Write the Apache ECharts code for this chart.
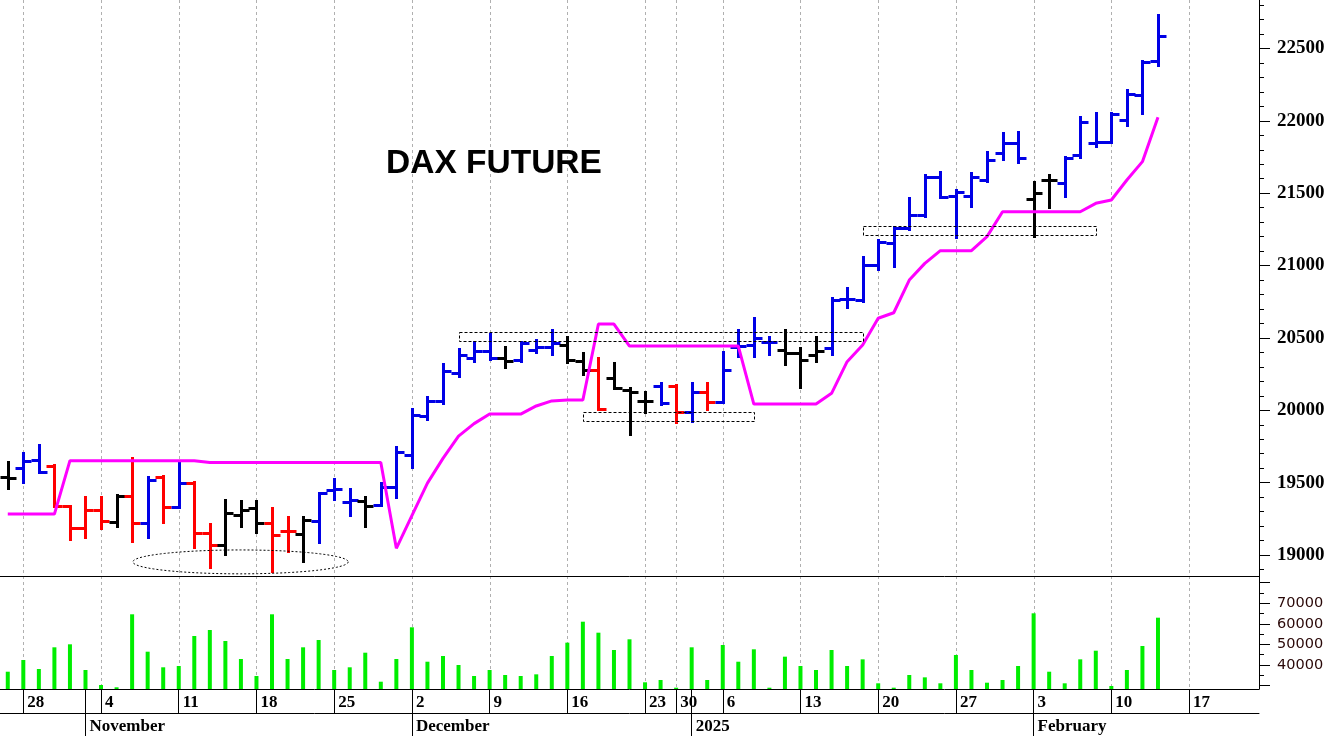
<!DOCTYPE html>
<html><head><meta charset="utf-8">
<script src="https://cdn.jsdelivr.net/npm/echarts@6/dist/echarts.min.js"></script>
<style>html,body{margin:0;padding:0;background:#fff}#c{width:1331px;height:736px}</style>
</head><body><div id="c"></div>
<script>
// ---------- DATA ----------
const dates = [
 '2024-10-25',
 '2024-10-28','2024-10-29','2024-10-30','2024-10-31','2024-11-01',
 '2024-11-04','2024-11-05','2024-11-06','2024-11-07','2024-11-08',
 '2024-11-11','2024-11-12','2024-11-13','2024-11-14','2024-11-15',
 '2024-11-18','2024-11-19','2024-11-20','2024-11-21','2024-11-22',
 '2024-11-25','2024-11-26','2024-11-27','2024-11-28','2024-11-29',
 '2024-12-02','2024-12-03','2024-12-04','2024-12-05','2024-12-06',
 '2024-12-09','2024-12-10','2024-12-11','2024-12-12','2024-12-13',
 '2024-12-16','2024-12-17','2024-12-18','2024-12-19','2024-12-20',
 '2024-12-23','2024-12-27',
 '2024-12-30','2025-01-02','2025-01-03',
 '2025-01-06','2025-01-07','2025-01-08','2025-01-09','2025-01-10',
 '2025-01-13','2025-01-14','2025-01-15','2025-01-16','2025-01-17',
 '2025-01-20','2025-01-21','2025-01-22','2025-01-23','2025-01-24',
 '2025-01-27','2025-01-28','2025-01-29','2025-01-30','2025-01-31',
 '2025-02-03','2025-02-04','2025-02-05','2025-02-06','2025-02-07',
 '2025-02-10','2025-02-11','2025-02-12','2025-02-13','2025-02-14',
 '2025-02-17','2025-02-18','2025-02-19','2025-02-20','2025-02-21'
];
const opens  = [19541,19599,19656,19617,19339,19184,19311,19230,19408,19219,
                19541,19334,19500,19150,19069,19276,19322,19219,19168,19145,
                19237,19449,19368,19375,19345,19472,19691,19960,20066,20256,
                20359,20412,20359,20347,20420,20439,20451,20342,20278,20221,
                20140,20066,20168,20168,19990,20128,20059,20440,20450,20474,
                20417,20394,20382,20428,20767,20762,21004,21154,21257,21349,
                21610,21480,21481,21591,21776,21845,21457,21591,21568,21764,
                21845,21856,22006,22180,22414];
const highs  = [19645,19703,19760,19622,19342,19403,19403,19415,19668,19541,
                19545,19645,19505,19214,19380,19375,19375,19322,19265,19265,
                19431,19523,19454,19403,19495,19744,20007,20094,20320,20421,
                20474,20527,20439,20474,20486,20555,20509,20394,20359,20325,
                20152,20128,20187,20175,20191,20187,20405,20555,20636,20509,
                20555,20428,20509,20774,20843,21062,21177,21269,21464,21626,
                21649,21522,21638,21787,21914,21925,21580,21626,21753,22029,
                22052,22052,22213,22416,22731];
const lows   = [19454,19500,19569,19335,19104,19115,19180,19196,19092,19115,
                19223,19322,19046,18908,19000,19196,19154,18885,19023,18954,
                19081,19380,19269,19191,19339,19392,19599,19933,20043,20228,
                20336,20347,20290,20336,20394,20382,20325,20244,20000,20145,
                19829,19979,20037,19910,19921,20002,20048,20370,20370,20382,
                20313,20152,20336,20382,20705,20751,20969,20992,21246,21333,
                21464,21188,21407,21580,21730,21707,21200,21395,21476,21741,
                21822,21845,21964,22047,22379];
const closes = [19535,19652,19576,19340,19184,19311,19237,19408,19219,19518,
                19329,19500,19154,19069,19288,19311,19219,19138,19168,19242,
                19431,19454,19380,19339,19472,19714,19967,20066,20274,20382,
                20412,20359,20342,20467,20439,20463,20347,20278,20010,20155,
                20128,20066,20048,19990,20128,20059,20280,20445,20500,20474,
                20394,20347,20412,20762,20767,21004,21165,21257,21349,21614,
                21476,21511,21610,21730,21845,21741,21499,21591,21741,21994,
                21856,22047,22183,22410,22588];
// b = blue, r = red, k = black
const barColors = ('kbbrrrrkrb' + 'rbrrkkkrrk' + 'bbbkbbbbbb' + 'bbkbbbkkrk' +
                   'kkbrbrbbbb' + 'kkkbbbbbbb' + 'bbbbbbkkbb' + 'bbbbb').split('');
const trail = [19283,19283,19283,19283,19652,19652,19652,19652,19652,19652,
               19652,19652,19652,19640,19640,19640,19640,19640,19640,19640,
               19640,19640,19640,19640,19640,19046,19272,19497,19668,19822,
               19908,19974,19974,19974,20030,20065,20071,20071,20596,20596,
               20444,20444,20444,20444,20444,20444,20444,20444,20043,20043,
               20043,20043,20043,20117,20336,20451,20636,20674,20900,21015,
               21103,21103,21103,21200,21372,21372,21372,21372,21372,21372,
               21430,21453,21591,21718,22025];
const volumes = [36740,42430,38050,48600,50060,37570,30280,29160,64650,46470,
                 38880,39510,54100,57010,51670,42920,34650,64650,42920,48600,
                 52150,37570,38880,45980,31880,42920,58320,41600,44380,40000,
                 34650,37570,35140,34650,35460,44380,50860,61050,55710,47290,
                 52490,31590,32710,28970,48600,32710,49720,41600,47630,28970,
                 44050,39510,37570,47290,39510,42750,31100,28970,35140,34000,
                 31100,44860,37570,31400,32710,39510,65130,36740,31100,42750,
                 46950,29790,37570,49240,63000];
const dayTicks = ['2024-10-28','2024-11-04','2024-11-11','2024-11-18','2024-11-25',
                  '2024-12-02','2024-12-09','2024-12-16','2024-12-23','2024-12-30',
                  '2025-01-06','2025-01-13','2025-01-20','2025-01-27','2025-02-03',
                  '2025-02-10','2025-02-17'];
const monthStarts = ['2024-11-01','2024-12-02','2025-01-02','2025-02-03'];
const monthNames  = ['November','December','2025','February'];
const priceTicks  = [19000,19500,20000,20500,21000,21500,22000,22500];
const volumeTicks = [30000,40000,50000,60000,70000,80000];
const volumeTickLabels = [40000,50000,60000,70000];
// annotation boxes (day index from/to, price low/high)
const boxFrom = [29, 37, 55];
const boxTo   = [55, 48, 70];
const boxLow  = [20480, 19925, 21205];
const boxHigh = [20540, 19990, 21270];
// annotation ellipse (day index from/to, price low/high)
const ellipseFrom = [8.05], ellipseTo = [21.9], ellipseLow = [18870], ellipseHigh = [19035];

// ---------- CHART ----------
const PMIN = 18855, PMAX = 22835, VMIN = 28330, VMAX = 83270;
const priceMinor = [];
for (let v = 18900; v <= 22800; v += 100) if (v % 500) priceMinor.push(v);
const volumeMinor = [35000,45000,55000,65000,75000];
const COL = {b: '#0000e6', r: '#ff0000', k: '#000000'};
const mondayIdx = dayTicks.map(d => dates.indexOf(d));
const isMonday = v => dayTicks.indexOf(v) >= 0;
const isMonth = v => monthStarts.indexOf(v) >= 0;
const snap = v => Math.round(v) + 0.5;

function fx(api, f, y) {
  const i = Math.floor(f);
  const p = api.coord([i, y]);
  const bw = api.size([1, 0])[0];
  return [p[0] + (f - i) * bw, p[1]];
}

const ohlcData = opens.map((o, i) => [i, o, highs[i], lows[i], closes[i]]);
const boxData = boxFrom.map((f, i) => [f, boxTo[i], boxLow[i], boxHigh[i]]);
const ellData = ellipseFrom.map((f, i) => [f, ellipseTo[i], ellipseLow[i], ellipseHigh[i]]);

const gridSeries = (xi, yi, mid) => ({
  type: 'custom', xAxisIndex: xi, yAxisIndex: yi, z: 0, silent: true,
  data: mondayIdx.map(i => [i, mid]),
  renderItem: function (params, api) {
    const x = snap(api.coord([api.value(0), mid])[0]);
    const cs = params.coordSys;
    return {type: 'line', shape: {x1: x, y1: cs.y, x2: x, y2: cs.y + cs.height},
      style: {stroke: '#b0b0b0', lineWidth: 1, lineDash: [3, 3]}};
  }
});

const yAxisBase = {
  type: 'value', position: 'right', splitLine: {show: false}
};

const option = {
  animation: false,
  backgroundColor: '#ffffff',
  title: {
    text: 'DAX FUTURE', left: 381, top: 142,
    textStyle: {fontFamily: 'Liberation Sans', fontWeight: 'bold', fontSize: 33.5, color: '#000'}
  },
  grid: [
    {left: 0, top: 0, width: 1259, height: 576, containLabel: false, outerBoundsMode: 'none'},
    {left: 0, top: 576, width: 1259, height: 113, containLabel: false, outerBoundsMode: 'none'}
  ],
  xAxis: [
    {type: 'category', gridIndex: 0, data: dates, boundaryGap: true,
     axisLine: {show: true, onZero: false, lineStyle: {color: '#000', width: 1}},
     axisTick: {show: false}, axisLabel: {show: false}, splitLine: {show: false}},
    {type: 'category', gridIndex: 1, data: dates, boundaryGap: true, position: 'bottom',
     axisLine: {show: true, onZero: false, lineStyle: {color: '#000', width: 1}},
     axisTick: {show: true, alignWithLabel: true, length: 24,
       interval: (i, v) => isMonday(v) || isMonth(v), lineStyle: {color: '#000', width: 1}},
     axisLabel: {show: true, interval: (i, v) => isMonday(v),
       formatter: v => String(parseInt(v.slice(8), 10)),
       align: 'left', padding: [0, 0, 0, 4], margin: 5,
       fontFamily: 'Liberation Serif', fontWeight: 'bold', fontSize: 17, color: '#000'},
     splitLine: {show: false}},
    {type: 'category', gridIndex: 1, data: dates, boundaryGap: true, position: 'bottom', offset: 24,
     axisLine: {show: true, onZero: false, lineStyle: {color: '#000', width: 1}},
     axisTick: {show: true, alignWithLabel: true, length: 24,
       interval: (i, v) => isMonth(v), lineStyle: {color: '#000', width: 1}},
     axisLabel: {show: true, interval: (i, v) => isMonth(v),
       formatter: v => monthNames[monthStarts.indexOf(v)] || '',
       align: 'left', padding: [0, 0, 0, 4], margin: 5,
       fontFamily: 'Liberation Serif', fontWeight: 'bold', fontSize: 17, color: '#000'},
     splitLine: {show: false}}
  ],
  yAxis: [
    Object.assign({}, yAxisBase, {gridIndex: 0, min: PMIN, max: PMAX,
      axisLine: {show: true, lineStyle: {color: '#000', width: 1}},
      axisTick: {show: true, customValues: priceTicks, length: 11, lineStyle: {color: '#000', width: 1}},
      axisLabel: {show: true, customValues: priceTicks, margin: 18, formatter: v => String(v),
        fontFamily: 'Liberation Serif', fontWeight: 'bold', fontSize: 19, color: '#000'}}),
    Object.assign({}, yAxisBase, {gridIndex: 0, min: PMIN, max: PMAX,
      axisLine: {show: false},
      axisTick: {show: true, customValues: priceMinor, length: 5, lineStyle: {color: '#000', width: 1}},
      axisLabel: {show: false}}),
    Object.assign({}, yAxisBase, {gridIndex: 1, min: VMIN, max: VMAX,
      axisLine: {show: true, lineStyle: {color: '#000', width: 1}},
      axisTick: {show: true, customValues: volumeTicks, length: 11, lineStyle: {color: '#000', width: 1}},
      axisLabel: {show: true, customValues: volumeTickLabels, margin: 18, formatter: v => String(v),
        fontFamily: 'DejaVu Sans', fontSize: 14.5, color: '#2a0808'}}),
    Object.assign({}, yAxisBase, {gridIndex: 1, min: VMIN, max: VMAX,
      axisLine: {show: false},
      axisTick: {show: true, customValues: volumeMinor, length: 5, lineStyle: {color: '#000', width: 1}},
      axisLabel: {show: false}})
  ],
  series: [
    gridSeries(0, 0, 20000),
    gridSeries(1, 2, 50000),
    {
      name: 'trail', type: 'line', xAxisIndex: 0, yAxisIndex: 0, z: 3,
      data: trail, symbol: 'none', smooth: false, silent: true,
      lineStyle: {color: '#ff00ff', width: 3}
    },
    {
      name: 'ohlc', type: 'custom', xAxisIndex: 0, yAxisIndex: 0, z: 2,
      data: ohlcData, encode: {x: 0, y: [1, 2, 3, 4]},
      renderItem: function (params, api) {
        const i = api.value(0);
        const o = api.coord([i, api.value(1)]);
        const h = api.coord([i, api.value(2)]);
        const l = api.coord([i, api.value(3)]);
        const c = api.coord([i, api.value(4)]);
        const x = snap(o[0]);
        const st = {stroke: COL[barColors[params.dataIndex]], lineWidth: 3};
        const t = 7;
        return {type: 'group', children: [
          {type: 'line', shape: {x1: x, y1: Math.round(h[1]) - 1, x2: x, y2: Math.round(l[1]) + 1}, style: st},
          {type: 'line', shape: {x1: x - t - 1, y1: snap(o[1]), x2: x, y2: snap(o[1])}, style: st},
          {type: 'line', shape: {x1: x, y1: snap(c[1]), x2: x + t + 1, y2: snap(c[1])}, style: st}
        ]};
      }
    },
    {
      name: 'boxes', type: 'custom', xAxisIndex: 0, yAxisIndex: 0, z: 4, silent: true,
      data: boxData,
      renderItem: function (params, api) {
        const a = fx(api, api.value(0), api.value(3));
        const b = fx(api, api.value(1), api.value(2));
        return {type: 'rect', shape: {x: snap(a[0]), y: snap(a[1]),
            width: Math.round(b[0] - a[0]), height: Math.round(b[1] - a[1])},
          style: {fill: 'none', stroke: '#000', lineWidth: 1, lineDash: [3, 2]}};
      }
    },
    {
      name: 'ellipse', type: 'custom', xAxisIndex: 0, yAxisIndex: 0, z: 4, silent: true,
      data: ellData,
      renderItem: function (params, api) {
        const a = fx(api, api.value(0), api.value(3));
        const b = fx(api, api.value(1), api.value(2));
        const cx = (a[0] + b[0]) / 2, cy = (a[1] + b[1]) / 2;
        const rx = (b[0] - a[0]) / 2, ry = (b[1] - a[1]) / 2;
        const pts = [];
        for (let k = 0; k < 120; k++) {
          const t = k / 120 * Math.PI * 2;
          pts.push([cx + rx * Math.cos(t), cy + ry * Math.sin(t)]);
        }
        return {type: 'polygon', shape: {points: pts},
          style: {fill: 'none', stroke: '#000', lineWidth: 1, lineDash: [2, 2]}};
      }
    },
    {
      name: 'volume', type: 'bar', xAxisIndex: 1, yAxisIndex: 2, z: 2,
      data: volumes, barWidth: 4, silent: true,
      itemStyle: {color: '#00ee00'}
    }
  ]
};
const chart = echarts.init(document.getElementById('c'), null, {renderer: 'canvas'});
chart.setOption(option);
</script>
</body></html>
